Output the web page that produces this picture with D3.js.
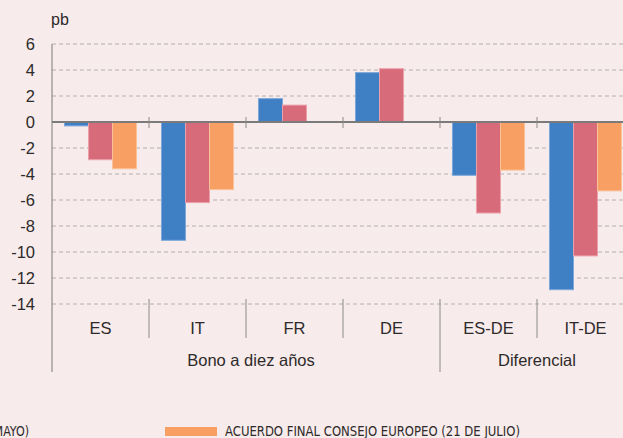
<!DOCTYPE html>
<html>
<head>
<meta charset="utf-8">
<script src="https://cdn.jsdelivr.net/npm/d3@7"></script>
<style>
  html, body { margin: 0; padding: 0; background: #f7ebeb; }
  svg { display: block; font-family: "Liberation Sans", Arial, sans-serif; }
</style>
</head>
<body>
<div id="chart"></div>
<script>
// datos
var categories = ["ES", "IT", "FR", "DE", "ES-DE", "IT-DE"];
var seriesNames = [
  "ANUNCIO FRANCO-ALEMÁN (18 DE MAYO)",
  "PROPUESTA COMISIÓN EUROPEA (27 DE MAYO)",
  "ACUERDO FINAL CONSEJO EUROPEO (21 DE JULIO)"
];
var blueValues = [-0.3, -9.1, 1.8, 3.8, -4.1, -12.9];
var pinkValues = [-2.9, -6.2, 1.3, 4.1, -7.0, -10.3];
var orangeValues = [-3.6, -5.2, null, null, -3.7, -5.3];
var groupNames = ["Bono a diez años", "Diferencial"];
var groupSpans = [[0, 3], [4, 5]];
var yTicks = [6, 4, 2, 0, -2, -4, -6, -8, -10, -12, -14];

var colors = ["#3f7fc4", "#d86b7a", "#f8a063"];
var strokes = ["#7ea8da", "#eba0aa", "#fbc29a"];
var textColor = "#2e2a2a";

var W = 623, H = 438;
var svg = d3.select("#chart").append("svg")
    .attr("width", W).attr("height", H);

var x = d3.scaleBand().domain(categories).range([52, 634]).padding(0);
var xs = d3.scaleBand().domain([0, 1, 2]).range([0, x.bandwidth()])
    .paddingInner(0).paddingOuter(0.52);
var y = d3.scaleLinear().domain([-14, 6]).range([304, 44]);

// gridlines
svg.append("g").selectAll("line")
    .data(yTicks.filter(d => d != 0))
    .enter().append("line")
    .attr("x1", 52).attr("x2", W)
    .attr("y1", d => y(d)).attr("y2", d => y(d))
    .attr("stroke", "#b3b0b0").attr("stroke-width", 1)
    .attr("stroke-dasharray", "4,3");

// tick labels
svg.append("g").selectAll("text")
    .data(yTicks)
    .enter().append("text")
    .attr("x", 35).attr("y", d => y(d))
    .attr("dy", "0.36em")
    .attr("text-anchor", "end")
    .attr("font-size", 16.5)
    .attr("fill", textColor)
    .text(d => d);

svg.append("text")
    .attr("x", 51).attr("y", 25)
    .attr("font-size", 16).attr("fill", textColor)
    .text("pb");

// bars
var allSeries = [blueValues, pinkValues, orangeValues];
allSeries.forEach(function (vals, si) {
    svg.append("g").selectAll("rect")
        .data(categories.map((c, i) => ({ c: c, v: vals[i] })).filter(d => d.v != null))
        .enter().append("rect")
        .attr("x", d => x(d.c) + xs(si))
        .attr("width", xs.bandwidth())
        .attr("y", d => y(Math.max(0, d.v)))
        .attr("height", d => Math.abs(y(d.v) - y(0)))
        .attr("fill", colors[si])
        .attr("stroke", strokes[si])
        .attr("stroke-width", 1);
});

// eje y
svg.append("line")
    .attr("x1", 52).attr("x2", 52).attr("y1", 44).attr("y2", 372)
    .attr("stroke", "#7a7a7a").attr("stroke-width", 1);

// linea cero
svg.append("line")
    .attr("x1", 52).attr("x2", W).attr("y1", y(0)).attr("y2", y(0))
    .attr("stroke", "#7a7a7a").attr("stroke-width", 2);

// separadores de categoria
var seps = categories.slice(1).map(c => x(c));
svg.append("g").selectAll("line")
    .data(seps)
    .enter().append("line")
    .attr("x1", d => d).attr("x2", d => d)
    .attr("y1", y(0) - 5).attr("y2", y(0) + 6)
    .attr("stroke", "#8a8a8a").attr("stroke-width", 1);

svg.append("g").selectAll("line")
    .data(seps)
    .enter().append("line")
    .attr("x1", d => d).attr("x2", d => d)
    .attr("y1", 299).attr("y2", 338)
    .attr("stroke", "#8a8a8a").attr("stroke-width", 1);

// etiquetas de categoria
svg.append("g").selectAll("text")
    .data(categories)
    .enter().append("text")
    .attr("x", d => x(d) + x.bandwidth() / 2)
    .attr("y", 328).attr("dy", "0.36em")
    .attr("text-anchor", "middle")
    .attr("font-size", 16.5).attr("fill", textColor)
    .text(d => d);

// grupos
groupSpans.forEach(function (s, gi) {
    var x0 = x(categories[s[0]]), x1 = x(categories[s[1]]) + x.bandwidth();
    if (gi > 0) {
        svg.append("line")
            .attr("x1", x0).attr("x2", x0).attr("y1", 338).attr("y2", 372)
            .attr("stroke", "#8a8a8a").attr("stroke-width", 1);
    }
    svg.append("text")
        .attr("x", gi == 0 ? 251 : (x0 + x1) / 2)
        .attr("y", 360).attr("dy", "0.36em")
        .attr("text-anchor", "middle")
        .attr("font-size", 16.5).attr("fill", textColor)
        .text(groupNames[gi]);
});

// leyenda
var lg = svg.append("g");
lg.append("text")
    .attr("x", 29).attr("y", 436)
    .attr("text-anchor", "end")
    .attr("font-family", "'Liberation Sans Narrow', 'DejaVu Sans Condensed', sans-serif")
    .attr("font-size", 14.5).attr("fill", textColor)
    .attr("textLength", 262).attr("lengthAdjust", "spacingAndGlyphs")
    .text(seriesNames[1]);
lg.append("rect")
    .attr("x", 165).attr("y", 427).attr("width", 52).attr("height", 9)
    .attr("fill", colors[2]);
lg.append("text")
    .attr("x", 225).attr("y", 436)
    .attr("font-family", "'Liberation Sans Narrow', 'DejaVu Sans Condensed', sans-serif")
    .attr("font-size", 14.5).attr("fill", textColor)
    .attr("textLength", 295).attr("lengthAdjust", "spacingAndGlyphs")
    .text(seriesNames[2]);
</script>
</body>
</html>
